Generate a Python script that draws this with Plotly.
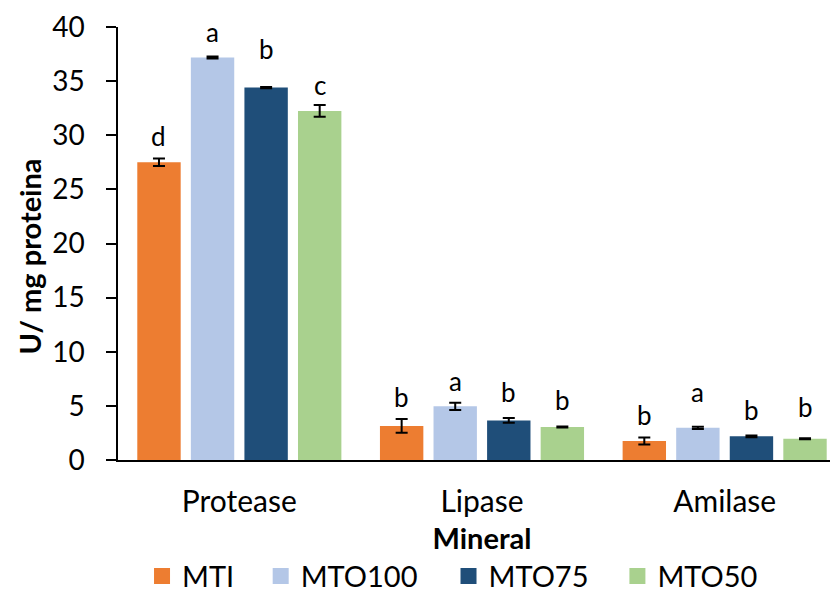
import plotly.graph_objects as go

categories = ["Protease", "Lipase", "Amilase"]
series_names = ["MTI", "MTO100", "MTO75", "MTO50"]
colors = ["#ED7D31", "#B4C7E7", "#1F4E79", "#A9D18E"]

mti = [27.5, 3.15, 1.75]
mto100 = [37.18, 4.96, 2.97]
mto75 = [34.4, 3.66, 2.19]
mto50 = [32.25, 3.05, 1.97]
values = [mti, mto100, mto75, mto50]

err_mti = [0.35, 0.63, 0.32]
err_mto100 = [0.1, 0.33, 0.1]
err_mto75 = [0.05, 0.23, 0.08]
err_mto50 = [0.55, 0.05, 0.05]
errors = [err_mti, err_mto100, err_mto75, err_mto50]

letters_mti = ["d", "b", "b"]
letters_mto100 = ["a", "a", "a"]
letters_mto75 = ["b", "b", "b"]
letters_mto50 = ["c", "b", "b"]
letters = [letters_mti, letters_mto100, letters_mto75, letters_mto50]

letter_y_mti = [29.96, 5.8, 4.15]
letter_y_mto100 = [39.5, 7.3, 6.3]
letter_y_mto75 = [38.0, 6.3, 4.6]
letter_y_mto50 = [34.6, 5.5, 4.9]
letter_y = [letter_y_mti, letter_y_mto100, letter_y_mto75, letter_y_mto50]

# legend entry positions (paper x of each legend box)
legend_x = [0.033, 0.196, 0.454, 0.686]

FONT = "Lato"
BARGAP = 0.117
BARGROUPGAP = 0.19

fig = go.Figure()
for name, vals, errs, col in zip(series_names, values, errors, colors):
    fig.add_trace(go.Bar(
        x=categories, y=vals, name=name, marker_color=col,
        marker_line_width=0, showlegend=False,
        error_y=dict(type="data", array=errs, visible=True,
                     color="black", thickness=2, width=6),
    ))
# legend proxies (square swatches), one legend per entry
legend_ids = ["legend", "legend2", "legend3", "legend4"]
for name, col, lid in zip(series_names, colors, legend_ids):
    fig.add_trace(go.Scatter(
        x=[None], y=[None], mode="markers", name=name, legend=lid,
        marker=dict(symbol="square", size=17, color=col),
    ))

slot = (1 - BARGAP) / len(series_names)
for j, (labs, ys) in enumerate(zip(letters, letter_y)):
    for i in range(len(categories)):
        fig.add_annotation(
            x=i + (j - 1.5) * slot, y=ys[i], xref="x", yref="y",
            text=labs[i], showarrow=False, yanchor="middle",
            font=dict(family=FONT, size=26, color="black"),
        )

# y-axis title
fig.add_annotation(
    text="<b>U/ mg proteina</b>", textangle=-90, showarrow=False,
    xref="paper", yref="paper", x=-0.1222, y=0.47,
    xanchor="center", yanchor="middle",
    font=dict(family=FONT, size=29, color="black"),
)

legend_common = dict(orientation="h", xanchor="left", y=-0.268,
                     yanchor="middle", font=dict(family=FONT, size=29),
                     itemwidth=30, bgcolor="rgba(0,0,0,0)")
layout_legends = {lid: dict(x=lx, **legend_common)
                  for lid, lx in zip(legend_ids, legend_x)}

fig.update_layout(
    width=838, height=592,
    margin=dict(l=110, r=0, t=19, b=140, autoexpand=False),
    paper_bgcolor="white", plot_bgcolor="white",
    barmode="group", bargap=BARGAP, bargroupgap=BARGROUPGAP,
    font=dict(family=FONT, color="black"),
    showlegend=True,
    **layout_legends,
)
fig.update_xaxes(
    automargin=False,
    showline=True, linecolor="black", linewidth=1.5,
    showgrid=False, ticks="", tickfont=dict(size=30),
    title=dict(text="<b>Mineral</b>", font=dict(size=29), standoff=12),
    ticklabelstandoff=14,
)
fig.update_yaxes(
    automargin=False,
    range=[0, 40], dtick=5, showline=True, linecolor="black", linewidth=1.5,
    showgrid=False, zeroline=False, ticks="outside", ticklen=10, tickwidth=1.5,
    tickcolor="black", tickfont=dict(size=28), ticklabelstandoff=16,
)
fig.write_html("out.html")
